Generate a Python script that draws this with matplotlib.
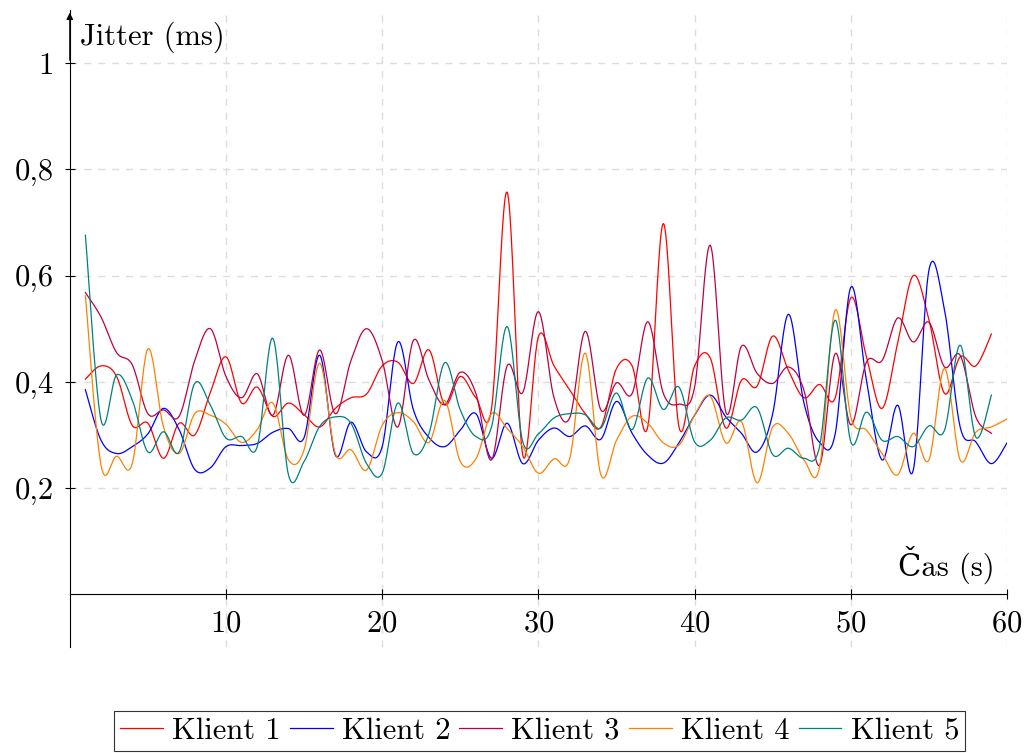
import numpy as np
import matplotlib
matplotlib.use('Agg')
import matplotlib.pyplot as plt
from matplotlib.ticker import FuncFormatter

plt.rcParams['font.family'] = ['cmr10', 'DejaVu Serif']
plt.rcParams['axes.formatter.use_mathtext'] = True
plt.rcParams['font.size'] = 22

cas = np.arange(1, 61)

klient1 = [0.405, 0.43, 0.41, 0.318, 0.322, 0.256, 0.322, 0.30, 0.38, 0.447,
           0.36, 0.39, 0.335, 0.36, 0.338, 0.315, 0.35, 0.37, 0.377, 0.43,
           0.437, 0.397, 0.46, 0.357, 0.41, 0.37, 0.35, 0.757, 0.262, 0.485,
           0.43, 0.385, 0.34, 0.315, 0.425, 0.43, 0.315, 0.698, 0.315, 0.43,
           0.445, 0.313, 0.403, 0.392, 0.486, 0.422, 0.37, 0.395, 0.37, 0.558,
           0.447, 0.35, 0.473, 0.6, 0.517, 0.378, 0.447, 0.43, 0.49]
klient2 = [0.385, 0.29, 0.265, 0.278, 0.302, 0.35, 0.31, 0.235, 0.238, 0.278,
           0.28, 0.284, 0.305, 0.312, 0.295, 0.45, 0.262, 0.324, 0.268, 0.278,
           0.475, 0.347, 0.295, 0.278, 0.309, 0.34, 0.256, 0.322, 0.246, 0.29,
           0.313, 0.297, 0.317, 0.292, 0.363, 0.303, 0.262, 0.247, 0.285, 0.337,
           0.375, 0.334, 0.303, 0.268, 0.34, 0.527, 0.36, 0.286, 0.302, 0.578,
           0.403, 0.253, 0.356, 0.234, 0.61, 0.535, 0.315, 0.287, 0.246, 0.285]
klient3 = [0.568, 0.522, 0.455, 0.432, 0.34, 0.347, 0.335, 0.44, 0.5, 0.41,
           0.37, 0.415, 0.337, 0.45, 0.337, 0.46, 0.34, 0.44, 0.5, 0.44,
           0.315, 0.478, 0.403, 0.357, 0.418, 0.378, 0.253, 0.43, 0.38, 0.532,
           0.37, 0.332, 0.495, 0.347, 0.398, 0.378, 0.513, 0.378, 0.358, 0.39,
           0.657, 0.343, 0.467, 0.416, 0.397, 0.428, 0.384, 0.243, 0.453, 0.319,
           0.437, 0.44, 0.52, 0.475, 0.512, 0.428, 0.45, 0.334, 0.303]
klient4 = [0.562, 0.243, 0.26, 0.246, 0.462, 0.315, 0.265, 0.34, 0.337, 0.32,
           0.286, 0.31, 0.36, 0.253, 0.272, 0.435, 0.265, 0.272, 0.234, 0.318,
           0.342, 0.325, 0.286, 0.365, 0.25, 0.255, 0.34, 0.312, 0.278, 0.228,
           0.255, 0.255, 0.454, 0.225, 0.29, 0.335, 0.322, 0.285, 0.281, 0.337,
           0.373, 0.285, 0.325, 0.21, 0.315, 0.303, 0.253, 0.24, 0.535, 0.334,
           0.309, 0.265, 0.225, 0.303, 0.253, 0.425, 0.253, 0.305, 0.315, 0.33]
klient5 = [0.676, 0.328, 0.413, 0.366, 0.268, 0.306, 0.268, 0.397, 0.356, 0.294,
           0.297, 0.278, 0.482, 0.225, 0.25, 0.316, 0.334, 0.322, 0.246, 0.228,
           0.36, 0.265, 0.303, 0.436, 0.347, 0.297, 0.315, 0.504, 0.287, 0.302,
           0.332, 0.34, 0.338, 0.313, 0.379, 0.31, 0.407, 0.348, 0.39, 0.287,
           0.29, 0.332, 0.328, 0.351, 0.263, 0.275, 0.256, 0.278, 0.516, 0.287,
           0.343, 0.29, 0.297, 0.278, 0.317, 0.309, 0.469, 0.296, 0.375]

nazvy = ['Klient 1', 'Klient 2', 'Klient 3', 'Klient 4', 'Klient 5']
barvy = ['#ff0000', '#0000ff', '#bf0040', '#ff8000', '#008080']


def smooth(x, y, k=0.17, n=24):
    # tikz-like smooth curve (bezier with tension)
    p = np.column_stack([x, y]).astype(float)
    out = []
    for i in range(len(p) - 1):
        a = p[i]
        b = p[i + 1]
        pa = p[i - 1] if i > 0 else a
        nb = p[i + 2] if i + 2 < len(p) else b
        c1 = a + k * (b - pa)
        c2 = b - k * (nb - a)
        t = np.linspace(0, 1, n)[:, None]
        seg = (1 - t) ** 3 * a + 3 * (1 - t) ** 2 * t * c1 + 3 * (1 - t) * t ** 2 * c2 + t ** 3 * b
        out.append(seg if i == 0 else seg[1:])
    s = np.vstack(out)
    return s[:, 0], s[:, 1]


fig = plt.figure(figsize=(10.26, 7.53), dpi=100)
ax = fig.add_axes([0.068, 0.1402, 0.9135, 0.8466])

for data, nazev, barva in zip([klient1, klient2, klient3, klient4, klient5], nazvy, barvy):
    sx, sy = smooth(cas[:len(data)], data)
    ax.plot(sx, sy, color=barva, lw=0.9, label=nazev)

ax.set_xlim(0, 60)
ax.set_ylim(-0.1, 1.1)
ax.set_xticks([10, 20, 30, 40, 50, 60])
ax.set_yticks([0.2, 0.4, 0.6, 0.8, 1.0])
ax.yaxis.set_major_formatter(FuncFormatter(lambda v, p: '1' if abs(v - 1) < 1e-9 else f'{v:.1f}'.replace('.', ',')))

ax.grid(True, color='#dcdcdc', linestyle=(0, (5, 5)), lw=1)
ax.set_axisbelow(True)

ax.spines['left'].set_position(('data', 0))
ax.spines['bottom'].set_position(('data', 0))
ax.spines['top'].set_visible(False)
ax.spines['right'].set_visible(False)
ax.spines['left'].set_linewidth(0.8)
ax.spines['bottom'].set_linewidth(0.8)
ax.tick_params(direction='inout', length=7, width=0.8, pad=8)
ax.annotate('', xy=(0, 1.1), xytext=(0, 1.0), xycoords='data',
            arrowprops=dict(arrowstyle='-|>', lw=0.8, color='black', mutation_scale=10))

ax.text(0.011, 0.9575, 'Jitter (ms)', transform=ax.transAxes, ha='left', va='center')
ax.text(0.987, 0.129, 'Čas (s)', transform=ax.transAxes, ha='right', va='center')

leg = fig.legend(loc='center', bbox_to_anchor=(0.526, 0.029), ncol=5, frameon=True,
                 fancybox=False, edgecolor='black', handlelength=1.4, handletextpad=0.3,
                 columnspacing=0.3, borderpad=0.2)
leg.get_frame().set_linewidth(0.8)

fig.savefig('out.png', dpi=100)
